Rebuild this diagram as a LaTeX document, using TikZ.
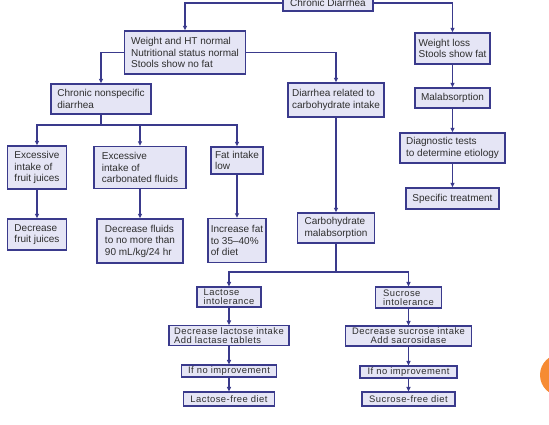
\documentclass[tikz,border=0pt]{standalone}
\usepackage{fontspec}
\setmainfont{Liberation Sans}
\newfontfamily\widefont[LetterSpace=5]{Liberation Sans}
\usetikzlibrary{arrows.meta}

\definecolor{boxfill}{HTML}{E5E5F5}
\definecolor{boxline}{HTML}{3A3A8C}
\definecolor{boxtext}{HTML}{2E2E2E}
\definecolor{dotorange}{HTML}{F68B33}

\begin{document}
\begin{tikzpicture}[x=1pt, y=-1pt,
  box/.style={draw=boxline, fill=boxfill, line width=1.4pt, text=boxtext,
              align=left, inner xsep=3pt, inner ysep=2pt,
              font=\fontsize{10}{11.5}\selectfont},
  smallbox/.style={box, line width=1.1pt, align=center, inner xsep=2.5pt, inner ysep=0.5pt,
                   font=\widefont\fontsize{9.4}{9}\selectfont},
  link/.style={boxline, line width=1.3pt},
  arr/.style={link, -{Triangle[length=4.5pt, width=4pt]}}]

  % --- Cadre de la page ---
  \fill[white] (0,0) rectangle (549,425);
  \useasboundingbox (0,0) rectangle (549,425);

  % --- Abscisses des colonnes ---
  \pgfmathsetmacro{\colcarb}{336}    % diarrhee liee aux glucides
  \pgfmathsetmacro{\colright}{452.5} % perte de poids
  \pgfmathsetmacro{\collac}{229}     % lactose
  \pgfmathsetmacro{\colsuc}{408.5}   % saccharose

  % --- Haut de l'arbre ---
  \node[box, minimum width=90, minimum height=16] (diarrhea) at (328,3) {Chronic Diarrhea};
  \node[box, minimum width=121, minimum height=43] (normal) at (185,52.5)
    {Weight and HT normal\\Nutritional status normal\\Stools show no fat};
  \node[box, minimum width=75, minimum height=31] (loss) at (\colright,48.5)
    {Weight loss\\Stools show fat};

  % --- Deuxieme niveau ---
  \node[box, minimum width=100, minimum height=30] (nonspec) at (101,99)
    {Chronic nonspecific\\diarrhea};
  \node[box, minimum width=96, minimum height=34] (carbrel) at (\colcarb,100)
    {Diarrhea related to\\carbohydrate intake};
  \node[box, minimum width=75, minimum height=20] (malab) at (\colright,98) {Malabsorption};
  \node[box, minimum width=105, minimum height=30] (diag) at (\colright,148)
    {Diagnostic tests\\to determine etiology};
  \node[box, minimum width=93, minimum height=21] (spec) at (\colright,198.5) {Specific treatment};

  % --- Causes et traitements (diarrhee non specifique) ---
  \node[box, minimum width=59, minimum height=43] (juice) at (37,167.5)
    {Excessive\\intake of\\fruit juices};
  \node[box, minimum width=92, minimum height=42] (carbon) at (140,167.5)
    {Excessive\\intake of\\carbonated fluids};
  \node[box, minimum width=52, minimum height=27] (fatlow) at (237,160.5)
    {Fat intake\\low};
  \node[box, minimum width=59, minimum height=31] (decjuice) at (37,234.5)
    {Decrease\\fruit juices};
  \node[box, minimum width=86, minimum height=44] (decfluid) at (140,241)
    {Decrease fluids\\to no more than\\90 mL/kg/24 hr};
  \node[box, minimum width=53, minimum height=44] (incfat) at (237,240.5)
    {Increase fat\\to 35--40\%\\of diet};

  % --- Malabsorption des glucides ---
  \node[box, minimum width=77, minimum height=30] (carbmal) at (\colcarb,228)
    {Carbohydrate\\malabsorption};

  \node[smallbox, align=left, minimum width=64, minimum height=20] (lactose) at (\collac,297)
    {Lactose\\intolerance};
  \node[smallbox, align=left, minimum width=120, minimum height=20] (declac) at (\collac,335.5)
    {Decrease lactose intake\\Add lactase tablets};
  \node[smallbox, minimum width=95, minimum height=12] (noimpl) at (\collac,371) {If no improvement};
  \node[smallbox, minimum width=91, minimum height=14] (lacfree) at (\collac,399) {Lactose-free diet};

  \node[smallbox, align=left, minimum width=66, minimum height=21] (sucrose) at (\colsuc,297.5)
    {Sucrose\\intolerance};
  \node[smallbox, minimum width=126, minimum height=20] (decsuc) at (\colsuc,336)
    {Decrease sucrose intake\\Add sacrosidase};
  \node[smallbox, minimum width=97, minimum height=12] (noimpr) at (\colsuc,372) {If no improvement};
  \node[smallbox, minimum width=93, minimum height=14] (sucfree) at (\colsuc,399) {Sucrose-free diet};

  % --- Points de branchement ---
  \coordinate (forkleft) at (101,125);
  \coordinate (forkcarb) at (\colcarb,272);

  % --- Liaisons ---
  \draw[arr] (diarrhea.west) -| (normal.north);
  \draw[arr] (diarrhea.east) -| (loss.north);
  \draw[arr] (normal.west) -| (nonspec.north);
  \draw[arr] (normal.east) -| (carbrel.north);
  \draw[arr] (loss) -- (malab);
  \draw[arr] (malab) -- (diag);
  \draw[arr] (diag) -- (spec);

  \draw[link] (nonspec.south) -- (forkleft);
  \draw[arr] (forkleft) -| (juice.north);
  \draw[arr] (forkleft) -| (carbon.north);
  \draw[arr] (forkleft) -| (fatlow.north);
  \draw[arr] (juice) -- (decjuice);
  \draw[arr] (carbon) -- (decfluid);
  \draw[arr] (fatlow) -- (incfat);

  \draw[arr] (carbrel) -- (carbmal);
  \draw[link] (carbmal.south) -- (forkcarb);
  \draw[arr] (forkcarb) -| (lactose.north);
  \draw[arr] (forkcarb) -| (sucrose.north);
  \draw[arr] (lactose) -- (declac);
  \draw[arr] (declac) -- (noimpl);
  \draw[arr] (noimpl) -- (lacfree);
  \draw[arr] (sucrose) -- (decsuc);
  \draw[arr] (decsuc) -- (noimpr);
  \draw[arr] (noimpr) -- (sucfree);

  % --- Pastille orange au bord droit ---
  \fill[dotorange] (561,375) circle (21);

\end{tikzpicture}
\end{document}
